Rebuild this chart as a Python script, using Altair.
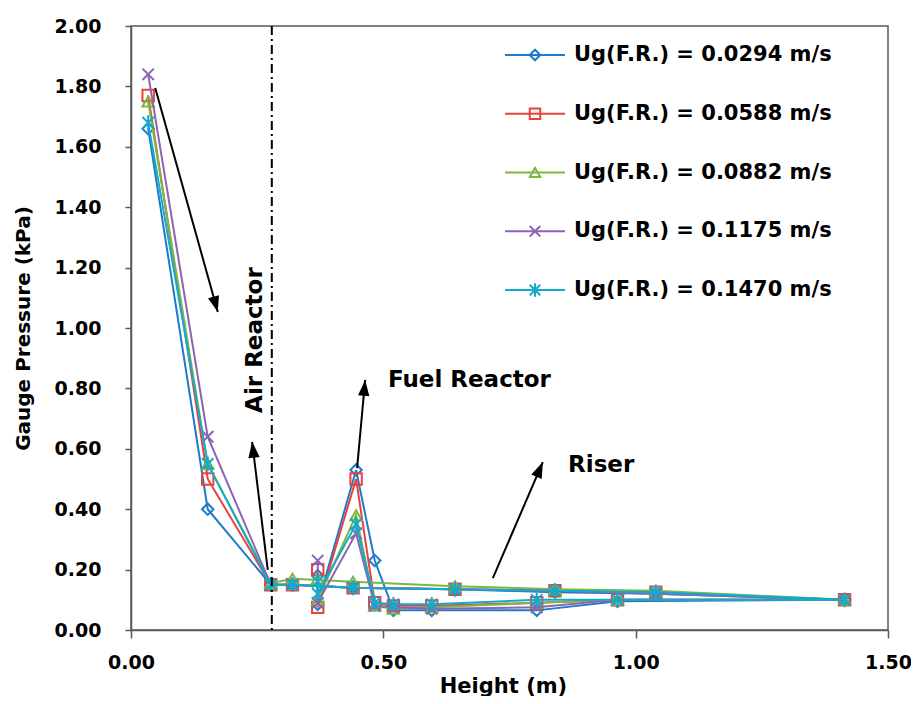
import math
import altair as alt
import pandas as pd

# ---------------- data ----------------
series_names = [
    "Ug(F.R.) = 0.0294 m/s",
    "Ug(F.R.) = 0.0588 m/s",
    "Ug(F.R.) = 0.0882 m/s",
    "Ug(F.R.) = 0.1175 m/s",
    "Ug(F.R.) = 0.1470 m/s",
]
series_colors = ["#1F7BC9", "#E8423C", "#7CB740", "#8B65B4", "#12ABCB"]
series_shapes = [
    "diamond",
    "square",
    "triangle-up",
    "M-1,-1L1,1M-1,1L1,-1",
    "M-1,-1L1,1M-1,1L1,-1M0,-1.3L0,1.3",
]

# measurement heights, in the order the points are joined
height_m = [0.034, 0.152, 0.277, 0.32, 0.44, 0.642, 0.84, 1.04, 1.414,
            0.964, 0.804, 0.596, 0.52, 0.483, 0.446, 0.37, 0.37]

p_0294 = [1.66, 0.40, 0.15, 0.15, 0.14, 0.135, 0.125, 0.12, 0.10,
          0.095, 0.065, 0.065, 0.065, 0.23, 0.53, 0.085, 0.18]
p_0588 = [1.77, 0.50, 0.15, 0.15, 0.14, 0.135, 0.13, 0.125, 0.10,
          0.10, 0.09, 0.08, 0.08, 0.09, 0.50, 0.075, 0.20]
p_0882 = [1.75, 0.55, 0.155, 0.17, 0.16, 0.145, 0.135, 0.13, 0.10,
          0.10, 0.09, 0.075, 0.07, 0.08, 0.38, 0.10, 0.17]
p_1175 = [1.84, 0.64, 0.15, 0.15, 0.14, 0.135, 0.13, 0.12, 0.10,
          0.10, 0.075, 0.07, 0.075, 0.08, 0.32, 0.09, 0.23]
p_1470 = [1.68, 0.55, 0.15, 0.15, 0.14, 0.135, 0.13, 0.125, 0.10,
          0.10, 0.10, 0.085, 0.085, 0.09, 0.35, 0.12, 0.16]
pressures = [p_0294, p_0588, p_0882, p_1175, p_1470]

x_ticks = [0.0, 0.5, 1.0, 1.5]
y_ticks = [0.0, 0.2, 0.4, 0.6, 0.8, 1.0, 1.2, 1.4, 1.6, 1.8, 2.0]

boundary_x = [0.279]

arrow_x0 = [0.048, 0.271, 0.448, 0.717]
arrow_y0 = [1.795, 0.199, 0.536, 0.172]
arrow_x1 = [0.172, 0.240, 0.464, 0.816]
arrow_y1 = [1.053, 0.623, 0.828, 0.556]

label_text = ["Air Reactor", "Fuel Reactor", "Riser"]
label_x = [0.246, 0.509, 0.866]
label_y = [0.96, 0.828, 0.546]
label_angle = [270, 0, 0]
label_align = ["center", "left", "left"]

# ---------------- layout ----------------
W, H = 757, 604
X_MAX, Y_MAX = 1.5, 2.0
FONT = "DejaVu Sans"

rows = []
for name, vals in zip(series_names, pressures):
    for i, (h, p) in enumerate(zip(height_m, vals)):
        rows.append({"series": name, "idx": i, "height": h, "pressure": p})
df = pd.DataFrame(rows)

color_scale = alt.Scale(domain=series_names, range=series_colors)
shape_scale = alt.Scale(domain=series_names, range=series_shapes)

x_enc = alt.X(
    "height:Q",
    scale=alt.Scale(domain=[0, X_MAX], nice=False, zero=False),
    axis=alt.Axis(
        values=x_ticks, format=".2f", title="Height (m)", grid=False, labelFlush=False,
        labelFont=FONT, labelFontWeight="bold", labelFontSize=19, labelColor="black",
        labelPadding=15, tickSize=8, tickColor="#595959", domainColor="#595959",
        domainWidth=1.5, tickWidth=1.5,
        titleFont=FONT, titleFontWeight="bold", titleFontSize=21, titleColor="black",
        titleX=372, titleY=56, titleBaseline="middle",
    ),
)
y_enc = alt.Y(
    "pressure:Q",
    scale=alt.Scale(domain=[0, Y_MAX], nice=False),
    axis=alt.Axis(
        values=y_ticks, format=".2f", title="Gauge Pressure (kPa)", grid=False,
        labelFlush=False,
        labelFont=FONT, labelFontWeight="bold", labelFontSize=19,
        labelColor="black", labelPadding=24, tickSize=6, tickColor="#595959",
        domainColor="#595959", domainWidth=1.5, tickWidth=1.5,
        titleFont=FONT, titleFontWeight="bold", titleFontSize=20, titleColor="black",
        titlePadding=21,
    ),
)

layers = []
for name in series_names:
    sub = df[df["series"] == name]
    base = alt.Chart(sub)
    line = base.mark_line(strokeWidth=2).encode(
        x=x_enc, y=y_enc,
        color=alt.Color("series:N", scale=color_scale, legend=None),
        order="idx:Q",
    )
    pts = base.mark_point(filled=False, strokeWidth=2, size=130, opacity=1).encode(
        x=x_enc, y=y_enc,
        color=alt.Color("series:N", scale=color_scale, legend=None),
        shape=alt.Shape("series:N", scale=shape_scale, legend=None),
    )
    layers += [line, pts]

# dash-dot boundary
bdf = pd.DataFrame({"height": boundary_x})
boundary = alt.Chart(bdf).mark_rule(
    color="black", strokeWidth=2, strokeDash=[9, 4, 2, 4]
).encode(x=alt.X("height:Q"))

# arrows
kx, ky = W / X_MAX, H / Y_MAX
angles = [
    (math.degrees(math.atan2((x1 - x0) * kx, (y1 - y0) * ky)) + 360) % 360
    for x0, y0, x1, y1 in zip(arrow_x0, arrow_y0, arrow_x1, arrow_y1)
]
adf = pd.DataFrame({"x0": arrow_x0, "y0": arrow_y0, "x1": arrow_x1,
                    "y1": arrow_y1, "ang": angles})
shafts = alt.Chart(adf).mark_rule(color="black", strokeWidth=2).encode(
    x="x0:Q", y="y0:Q", x2="x1:Q", y2="y1:Q"
)
heads = alt.Chart(adf).mark_point(
    shape="M0,0L-0.75,2.1L0.75,2.1Z", filled=True, color="black", size=230, opacity=1
).encode(x="x1:Q", y="y1:Q", angle=alt.Angle("ang:Q", scale=None))

text_layers = []
for t, tx, ty, ta, al in zip(label_text, label_x, label_y, label_angle, label_align):
    tdf = pd.DataFrame({"t": [t], "x": [tx], "y": [ty]})
    text_layers.append(
        alt.Chart(tdf).mark_text(
            font=FONT, fontSize=23, fontWeight="bold", color="black",
            align=al, baseline="middle", angle=ta,
        ).encode(x="x:Q", y="y:Q", text="t:N")
    )

main = alt.layer(*layers, boundary, shafts, heads, *text_layers)

# legend drawn inside the plot (top-right)
ldf = pd.DataFrame({"series": series_names})
leg_y = alt.Y(
    "series:N",
    scale=alt.Scale(type="point", domain=series_names, range=[29, 264], padding=0),
    axis=None,
)
leg_line = alt.Chart(ldf).mark_rule(strokeWidth=2).encode(
    x=alt.value(374), x2=alt.value(434), y=leg_y,
    color=alt.Color("series:N", scale=color_scale, legend=None),
)
leg_pts = alt.Chart(ldf).mark_point(filled=False, strokeWidth=2, size=110, opacity=1).encode(
    x=alt.value(404), y=leg_y,
    color=alt.Color("series:N", scale=color_scale, legend=None),
    shape=alt.Shape("series:N", scale=shape_scale, legend=None),
)
leg_txt = alt.Chart(ldf).mark_text(
    font=FONT, fontSize=21, fontWeight="bold", color="black", align="left", baseline="middle"
).encode(x=alt.value(443), y=leg_y, text="series:N")
legend = alt.layer(leg_line, leg_pts, leg_txt)

chart = alt.layer(main, legend).resolve_scale(y="independent").properties(
    width=W, height=H,
    padding={"left": 123, "top": 18, "right": 23, "bottom": 66},
    autosize=alt.AutoSizeParams(type="none"),
).configure_view(stroke="#595959", strokeWidth=1.5)

chart.save("out.html", embed_options={"renderer": "svg", "actions": False})
